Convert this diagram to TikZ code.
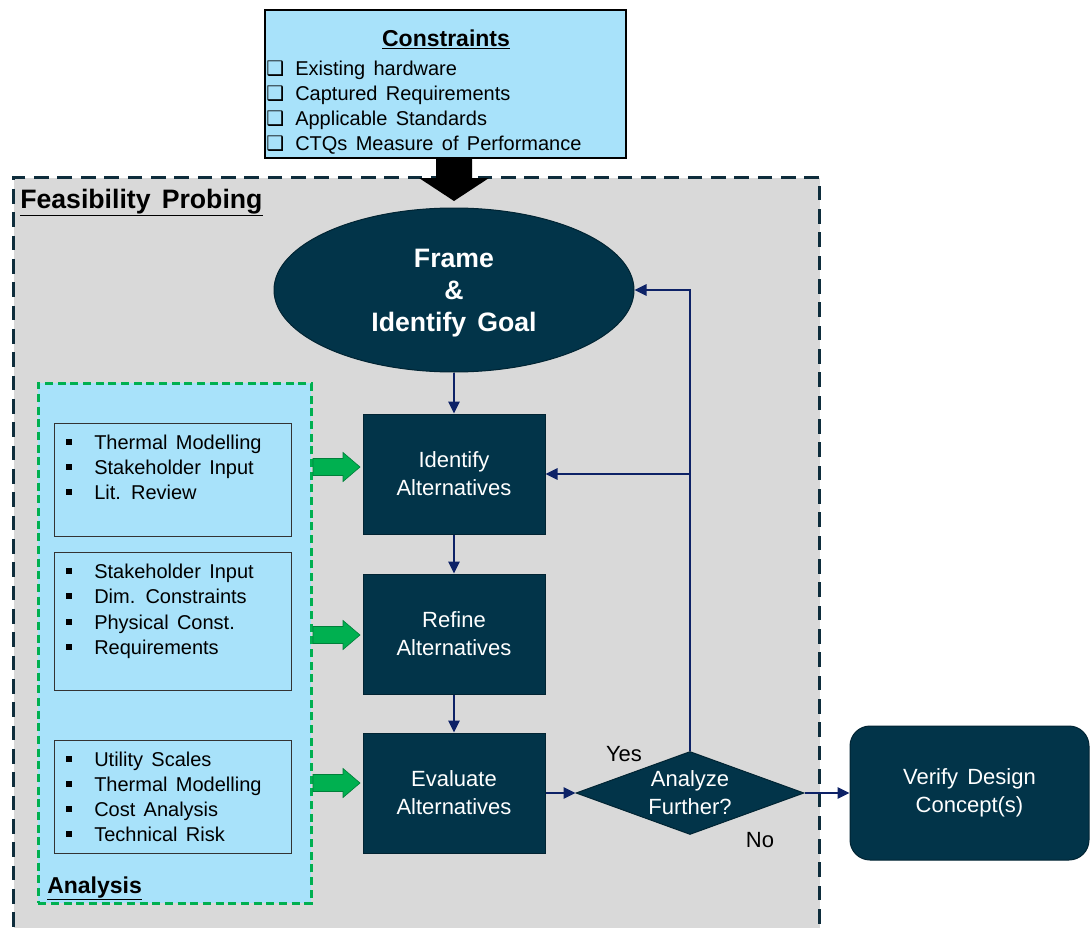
\documentclass[tikz,border=0pt]{standalone}
\usepackage{fontspec}
\setmainfont[WordSpace=1.5]{Liberation Sans}
\newfontfamily\symfont{DejaVu Sans}
\usetikzlibrary{shapes.geometric,arrows.meta,calc}

\definecolor{deep}{HTML}{023449}
\definecolor{sky}{HTML}{A8E2FA}
\definecolor{panel}{HTML}{D9D9D9}
\definecolor{navy}{HTML}{0D2267}
\definecolor{leaf}{HTML}{00B050}
\definecolor{leafdark}{HTML}{00803A}
\definecolor{frameline}{HTML}{0E2D3C}

% small square list bullet
\newcommand{\sqbullet}{\rule[3.2pt]{4.6pt}{4.6pt}}

\tikzset{
  darkbox/.style={rectangle, fill=deep, draw=deep!70!black, line width=0.75pt,
    text=white, align=center, inner sep=0pt,
    font=\fontsize{16.5}{21}\selectfont,
    minimum width=182*0.75pt, minimum height=120*0.75pt},
  flow/.style={navy, line width=1.5pt, -{Triangle[length=9pt,width=8.5pt]}},
  listbox/.style={rectangle, draw=black!80, fill=sky, line width=0.75pt,
    inner sep=0pt, anchor=north west, minimum width=237*0.75pt},
  item/.style={anchor=base west, inner sep=0pt, font=\fontsize{15}{18}\selectfont},
  heading/.style={anchor=base west, inner sep=0pt, font=\bfseries\fontsize{17.25}{20}\selectfont},
  plain/.style={inner sep=0pt, font=\fontsize{16.5}{21}\selectfont},
  greenarrow/.style={fill=leaf, draw=leafdark, line width=0.5pt}
}

\begin{document}
\begin{tikzpicture}[x=0.75pt, y=-0.75pt]
\useasboundingbox (0,0) rectangle (1090,928);
\clip (0,0) rectangle (1090,928);
\fill[white] (0,0) rectangle (1090,928);

% feasibility probing area
\node[rectangle, anchor=north west, fill=panel, draw=frameline, line width=2.25pt,
  dash pattern=on 11pt off 6.5pt, minimum width=806*0.75pt, minimum height=780*0.75pt,
  inner sep=0pt] (probe) at (12,176) {};
\node[heading, font=\bfseries\fontsize{20}{22}\selectfont] (probetitle) at (20,208)
  {\underline{Feasibility Probing}};

% constraints box
\node[rectangle, fill=sky, draw=black, line width=1.5pt, inner sep=0pt,
  minimum width=361*0.75pt, minimum height=148*0.75pt] (cons) at (445.5,84) {};
\node[inner sep=0pt, anchor=base, font=\bfseries\fontsize{17.25}{20}\selectfont]
  (constitle) at (446,46) {\underline{Constraints}};
\foreach \t [count=\i] in {Existing hardware, Captured Requirements,
    Applicable Standards, CTQs Measure of Performance} {
  \node[item] (ck\i) at (266,{50+25*\i}) {\symfont ❑};
  \node[item] (cn\i) at (295,{50+25*\i}) {\t};
}

% goal ellipse
\node[ellipse, fill=deep, draw=deep!70!black, line width=0.75pt, inner sep=0pt,
  minimum width=360*0.75pt, minimum height=164*0.75pt] (frame) at (454,290) {};
\node[inner sep=0pt, text=white, align=center,
  font=\bfseries\fontsize{20}{24}\selectfont] (frametext) at ($(frame.center)+(0,3)$)
  {Frame\\\&\\Identify Goal};

% block arrow from the constraints into the goal
\coordinate (drop) at (frame.north |- cons.south);
\fill[black] ($(drop)+(-18,0)$) -- ++(36,0) -- ++(0,19) -- ++(17,0)
  -- ($(drop)+(0,42)$) -- ($(drop)+(-35,19)$) -- ++(17,0) -- cycle;

% process steps
\node[darkbox] (ident) at (454,474) {Identify\\Alternatives};
\node[darkbox] (refine) at (454,634) {Refine\\Alternatives};
\node[darkbox] (evalu) at (454,793) {Evaluate\\Alternatives};

% decision
\node[diamond, fill=deep, draw=deep!70!black, line width=0.75pt, inner sep=0pt,
  minimum width=228*0.75pt, minimum height=83*0.75pt] (dec) at (690,793) {};
\node[plain, text=white, align=center] (dectext) at (dec.center) {Analyze\\Further?};

% verification
\node[rectangle, rounded corners=15pt, fill=deep, draw=deep!70!black, line width=0.75pt,
  inner sep=0pt, minimum width=239*0.75pt, minimum height=134*0.75pt, text=white,
  align=center, font=\fontsize{16.5}{21}\selectfont] (verify) at (969.5,793)
  {Verify Design\\Concept(s)};

\node[plain] (yes) at (624,754) {Yes};
\node[plain] (no) at (760,840) {No};

% connectors
\draw[flow] (frame.south) -- (ident.north);
\draw[flow] (ident.south) -- (refine.north);
\draw[flow] (refine.south) -- (evalu.north);
\draw[flow] (evalu.east) -- (dec.west);
\draw[flow] (dec.east) -- (verify.west);
\draw[flow] (dec.north) -- (dec.north |- frame.east) -- (frame.east);
\draw[flow] (dec.north |- ident.east) -- (ident.east);

% analysis panel
\node[rectangle, anchor=north west, fill=sky, draw=leaf, line width=1.9pt,
  dash pattern=on 6pt off 3.5pt, inner sep=0pt,
  minimum width=273*0.75pt, minimum height=520*0.75pt] (anal) at (37,382) {};
\node[heading] (analtitle) at (47,893) {\underline{Analysis}};

\node[listbox, minimum height=113*0.75pt] (sb1) at (54,423) {};
\node[listbox, minimum height=138*0.75pt] (sb2) at (54,552) {};
\node[listbox, minimum height=113*0.75pt] (sb3) at (54,740) {};

\foreach \t/\y [count=\i] in {Thermal Modelling/449, Stakeholder Input/474, Lit. Review/499} {
  \node[item] (pa\i) at (66,\y) {\sqbullet};
  \node[item] (ta\i) at (94,\y) {\t};
}
\foreach \t/\y [count=\i] in {Stakeholder Input/578, Dim. Constraints/603,
    Physical Const./629, Requirements/654} {
  \node[item] (pb\i) at (66,\y) {\sqbullet};
  \node[item] (tb\i) at (94,\y) {\t};
}
\foreach \t/\y [count=\i] in {Utility Scales/766, Thermal Modelling/791,
    Cost Analysis/816, Technical Risk/841} {
  \node[item] (pc\i) at (66,\y) {\sqbullet};
  \node[item] (tc\i) at (94,\y) {\t};
}

% green feed arrows from the analysis panel into the steps
\coordinate (g1) at (313,467);
\coordinate (g2) at (313,635);
\coordinate (g3) at (313,783);
\foreach \g in {g1,g2,g3} {
  \draw[greenarrow] (\g) -- ++(0,-8.5) -- ++(30,0) -- ++(0,-6) -- ++(17,14.5)
    -- ++(-17,14.5) -- ++(0,-6) -- ++(-30,0) -- cycle;
}
\end{tikzpicture}
\end{document}
